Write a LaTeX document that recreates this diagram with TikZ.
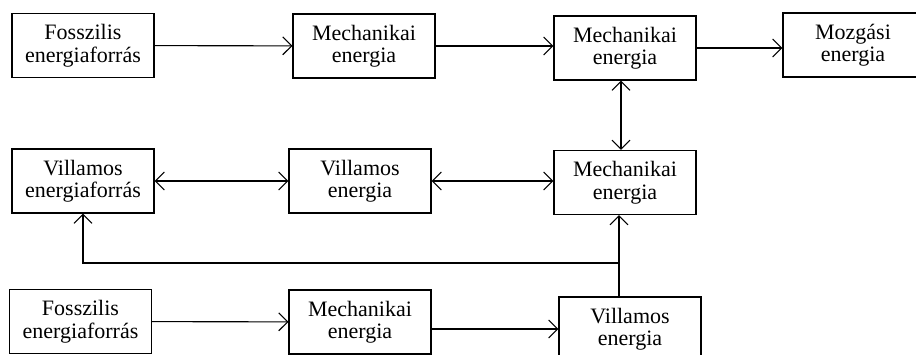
\documentclass[tikz,border=0pt]{standalone}
\usepackage{fontspec}
\setmainfont{Liberation Serif}
\usepackage{tikz}
\usetikzlibrary{arrows.meta,positioning}

\tikzset{
  blokk/.style={draw,line width=1.1pt,minimum width=142pt,minimum height=64pt,
    align=center,inner sep=0pt,font=\fontsize{22}{22.5}\selectfont},
  nyil/.style={line width=1.1pt,-{Straight Barb[length=9pt,width=18pt]}},
  kettos/.style={line width=1.1pt,{Straight Barb[length=9pt,width=18pt]}-{Straight Barb[length=9pt,width=18pt]}}
}

\begin{document}
\begin{tikzpicture}[x=1pt,y=-1pt]
    \useasboundingbox (0,0) rectangle (916,355);

    % Top row
    \node[blokk] (fos1) at (83,45.5) {Fosszilis\\energiaforrás};
    \node[blokk] (mech1) at (364,46) {Mechanikai\\energia};
    \node[blokk] (mech2) at (625,48) {Mechanikai\\energia};
    \node[blokk,minimum width=140pt] (moz) at (853,45) {Mozgási\\energia};

    % Middle row
    \node[blokk] (vef) at (83,181) {Villamos\\energiaforrás};
    \node[blokk] (vil1) at (360,181) {Villamos\\energia};
    \node[blokk] (mech3) at (625,182.5) {Mechanikai\\energia};

    % Bottom row
    \node[blokk] (fos2) at (80.5,321.5) {Fosszilis\\energiaforrás};
    \node[blokk] (mech4) at (360,322) {Mechanikai\\energia};
    \node[blokk] (vil2) at (630,329) {Villamos\\energia};

    \coordinate (split) at (619,263);

    % Connectors
    \draw[nyil] (fos1) -- (mech1);
    \draw[nyil] (mech1.east) -- (mech1.east -| mech2.west);
    \draw[nyil] (mech2.east) -- (mech2.east -| moz.west);
    \draw[kettos] ([xshift=-4pt]mech2.south) -- ([xshift=-4pt]mech3.north);
    \draw[kettos] (vef) -- (vil1);
    \draw[kettos] (vil1) -- (vil1 -| mech3.west);
    \draw[nyil] (fos2) -- (mech4);
    \draw[nyil] (mech4.east |- vil2.west) -- (vil2.west);
    \draw[nyil] (vil2.north -| split) -- (mech3.south -| split);
    \draw[nyil] (split) -| (vef.south);
\end{tikzpicture}
\end{document}
